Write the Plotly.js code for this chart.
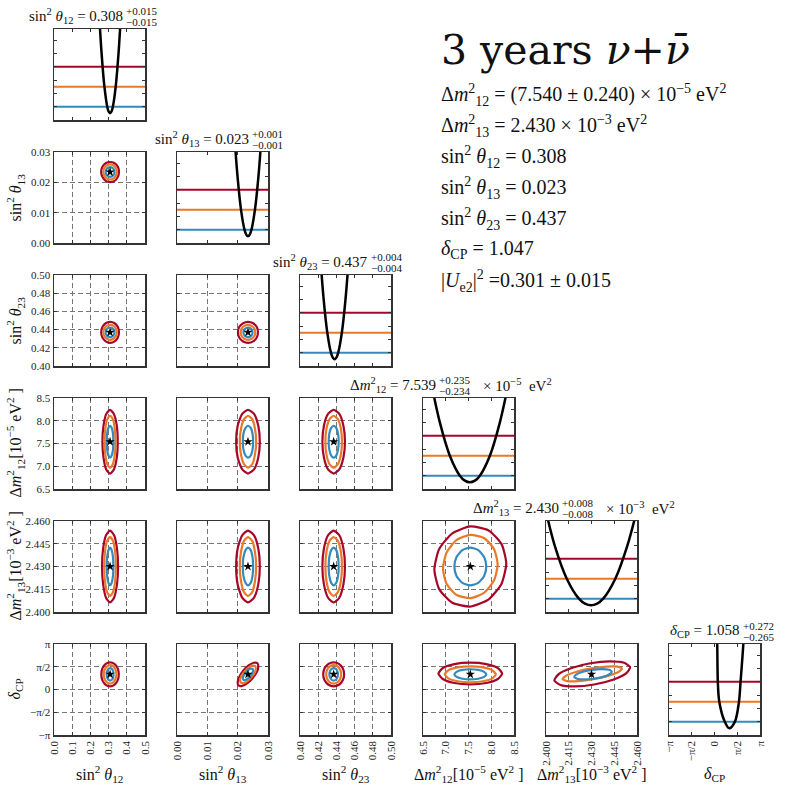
<!DOCTYPE html>
<html>
<head>
<meta charset="utf-8">
<script src="https://cdn.plot.ly/plotly-3.0.1.min.js"></script>
<style>html,body{margin:0;padding:0;background:#fff}</style>
</head>
<body>
<div id="chart" style="width:789px;height:789px"></div>
<script>
// ================= Data =================
const paramLabels = [
  "sin<sup>2</sup> <i>θ</i><sub>12</sub>",
  "sin<sup>2</sup> <i>θ</i><sub>13</sub>",
  "sin<sup>2</sup> <i>θ</i><sub>23</sub>",
  "Δ<i>m</i><sup>2</sup><sub>12</sub>[10<sup>−5</sup> eV<sup>2</sup> ]",
  "Δ<i>m</i><sup>2</sup><sub>13</sub>[10<sup>−3</sup> eV<sup>2</sup> ]",
  "<i>δ</i><sub>CP</sub>"
];
const bestFit = [0.308, 0.0234, 0.437, 7.54, 2.430, 1.05];

const ticks_s12 = [0, 0.1, 0.2, 0.3, 0.4, 0.5];
const ticktext_s12 = ["0.0", "0.1", "0.2", "0.3", "0.4", "0.5"];
const ticks_s13 = [0, 0.01, 0.02, 0.03];
const ticktext_s13 = ["0.00", "0.01", "0.02", "0.03"];
const ticks_s23 = [0.40, 0.42, 0.44, 0.46, 0.48, 0.50];
const ticktext_s23 = ["0.40", "0.42", "0.44", "0.46", "0.48", "0.50"];
const ticks_dm12 = [6.5, 7.0, 7.5, 8.0, 8.5];
const ticktext_dm12 = ["6.5", "7.0", "7.5", "8.0", "8.5"];
const ticks_dm13 = [2.400, 2.415, 2.430, 2.445, 2.460];
const ticktext_dm13 = ["2.400", "2.415", "2.430", "2.445", "2.460"];
const ticks_dcp = [-Math.PI, -Math.PI / 2, 0, Math.PI / 2, Math.PI];
const ticktext_dcp = ["−π", "−π/2", "0", "π/2", "π"];

// chi2 levels drawn on the 1D panels, and contour colours (1σ, 2σ, 3σ)
const chi2Levels = [1, 4, 7];
const levelColors = ["#348ABD", "#E8782A", "#A60628"];

// 1D profiles (x, Δχ²)
const prof_s12_x = [0.250, 0.2615, 0.277, 0.2925, 0.300, 0.308, 0.316, 0.3235, 0.339, 0.3545, 0.366];
const prof_s12_chi = [14, 9, 4, 1, 0.27, 0, 0.27, 1, 4, 9, 14];
const prof_s13_x = [0.0191, 0.01995, 0.0211, 0.02225, 0.02283, 0.0234, 0.02398, 0.02455, 0.0257, 0.02685, 0.0277];
const prof_s13_chi = [14, 9, 4, 1, 0.25, 0, 0.25, 1, 4, 9, 14];
const prof_s23_x = [0.423, 0.426, 0.430, 0.434, 0.436, 0.438, 0.440, 0.442, 0.446, 0.450, 0.453];
const prof_s23_chi = [14.06, 9, 4, 1, 0.25, 0, 0.25, 1, 4, 9, 14.06];
const prof_dm12_x = [6.71, 6.87, 7.09, 7.31, 7.42, 7.53, 7.64, 7.75, 7.97, 8.19, 8.35];
const prof_dm12_chi = [13.9, 9, 4, 1, 0.25, 0, 0.25, 1, 4, 9, 13.9];
const prof_dm13_x = [2.4000, 2.4057, 2.4137, 2.4217, 2.4257, 2.4297, 2.4337, 2.4377, 2.4457, 2.4537, 2.4597];
const prof_dm13_chi = [14.06, 9, 4, 1, 0.25, 0, 0.25, 1, 4, 9, 14.06];
const prof_dcp_x = [0.17, 0.19, 0.23, 0.33, 0.71, 1.02, 1.41, 1.69, 1.80, 1.99, 2.03];
const prof_dcp_chi = [15, 12.65, 7, 4, 1, 0, 1, 4, 7, 12.65, 15];

// 2D contours: [blue, orange, red] vertex lists
const s13_s12_x = [
  [0.332, 0.329, 0.320, 0.308, 0.296, 0.287, 0.284, 0.287, 0.296, 0.308, 0.320, 0.329, 0.332],
  [0.345, 0.340, 0.327, 0.308, 0.290, 0.276, 0.271, 0.276, 0.290, 0.308, 0.327, 0.340, 0.345],
  [0.357, 0.351, 0.333, 0.308, 0.284, 0.266, 0.259, 0.266, 0.284, 0.308, 0.333, 0.351, 0.357]];
const s13_s12_y = [
  [0.0234, 0.0242, 0.0248, 0.0250, 0.0248, 0.0242, 0.0234, 0.0226, 0.0220, 0.0218, 0.0220, 0.0226, 0.0234],
  [0.0234, 0.0247, 0.0256, 0.0259, 0.0256, 0.0247, 0.0234, 0.0222, 0.0212, 0.0209, 0.0212, 0.0222, 0.0234],
  [0.0234, 0.0251, 0.0263, 0.0267, 0.0263, 0.0251, 0.0234, 0.0218, 0.0205, 0.0201, 0.0205, 0.0218, 0.0234]];

const s23_s12_x = s13_s12_x;
const s23_s12_y = [
  [0.437, 0.4397, 0.4416, 0.4423, 0.4416, 0.4397, 0.437, 0.4344, 0.4324, 0.4317, 0.4324, 0.4344, 0.437],
  [0.437, 0.4411, 0.4441, 0.4452, 0.4441, 0.4411, 0.437, 0.4329, 0.4299, 0.4288, 0.4299, 0.4329, 0.437],
  [0.437, 0.4428, 0.4470, 0.4485, 0.4470, 0.4428, 0.437, 0.4313, 0.4270, 0.4255, 0.4270, 0.4313, 0.437]];
const s23_s13_x = [
  [0.0249, 0.0247, 0.0242, 0.0234, 0.0227, 0.0221, 0.0219, 0.0221, 0.0227, 0.0234, 0.0242, 0.0247, 0.0249],
  [0.0258, 0.0255, 0.0246, 0.0234, 0.0222, 0.0213, 0.0210, 0.0213, 0.0222, 0.0234, 0.0246, 0.0255, 0.0258],
  [0.0267, 0.0263, 0.0251, 0.0234, 0.0218, 0.0205, 0.0201, 0.0205, 0.0218, 0.0234, 0.0251, 0.0263, 0.0267]];
const s23_s13_y = s23_s12_y;

const dm12_s12_x = [
  [0.326, 0.324, 0.317, 0.308, 0.299, 0.292, 0.290, 0.292, 0.299, 0.308, 0.317, 0.324, 0.326],
  [0.338, 0.334, 0.323, 0.308, 0.293, 0.282, 0.278, 0.282, 0.293, 0.308, 0.323, 0.334, 0.338],
  [0.350, 0.345, 0.329, 0.308, 0.287, 0.272, 0.266, 0.272, 0.287, 0.308, 0.329, 0.345, 0.350]];
const dm12_s12_y = [
  [7.54, 7.715, 7.845, 7.89, 7.845, 7.715, 7.54, 7.365, 7.235, 7.19, 7.235, 7.365, 7.54],
  [7.54, 7.825, 8.036, 8.11, 8.036, 7.825, 7.54, 7.255, 7.044, 6.97, 7.044, 7.255, 7.54],
  [7.54, 7.89, 8.15, 8.24, 8.15, 7.89, 7.54, 7.19, 6.93, 6.84, 6.93, 7.19, 7.54]];
const dm12_s13_x = [
  [0.0251, 0.0249, 0.0243, 0.0234, 0.0226, 0.0219, 0.0217, 0.0219, 0.0226, 0.0234, 0.0243, 0.0249, 0.0251],
  [0.0261, 0.0257, 0.0248, 0.0234, 0.0221, 0.0211, 0.0207, 0.0211, 0.0221, 0.0234, 0.0248, 0.0257, 0.0261],
  [0.0273, 0.0268, 0.0254, 0.0234, 0.0215, 0.0200, 0.0195, 0.0200, 0.0215, 0.0234, 0.0254, 0.0268, 0.0273]];
const dm12_s13_y = dm12_s12_y;
const dm12_s23_x = [
  [0.4425, 0.4418, 0.4398, 0.437, 0.4343, 0.4322, 0.4315, 0.4322, 0.4343, 0.437, 0.4398, 0.4418, 0.4425],
  [0.4461, 0.4449, 0.4416, 0.437, 0.4325, 0.4291, 0.4279, 0.4291, 0.4325, 0.437, 0.4416, 0.4449, 0.4461],
  [0.4494, 0.4477, 0.4432, 0.437, 0.4308, 0.4263, 0.4246, 0.4263, 0.4308, 0.437, 0.4432, 0.4477, 0.4494]];
const dm12_s23_y = dm12_s12_y;

const dm13_s12_x = [
  [0.326, 0.324, 0.317, 0.308, 0.299, 0.292, 0.290, 0.292, 0.299, 0.308, 0.317, 0.324, 0.326],
  [0.340, 0.336, 0.324, 0.308, 0.292, 0.280, 0.276, 0.280, 0.292, 0.308, 0.324, 0.336, 0.340],
  [0.352, 0.346, 0.330, 0.308, 0.286, 0.270, 0.264, 0.270, 0.286, 0.308, 0.330, 0.346, 0.352]];
const dm13_s12_y = [
  [2.430, 2.4362, 2.4408, 2.4424, 2.4408, 2.4362, 2.430, 2.4238, 2.4192, 2.4176, 2.4192, 2.4238, 2.430],
  [2.430, 2.4397, 2.4469, 2.4494, 2.4469, 2.4397, 2.430, 2.4203, 2.4131, 2.4106, 2.4131, 2.4203, 2.430],
  [2.430, 2.4419, 2.4506, 2.4537, 2.4506, 2.4419, 2.430, 2.4182, 2.4094, 2.4063, 2.4094, 2.4182, 2.430]];
const dm13_s13_x = dm12_s13_x;
const dm13_s13_y = dm13_s12_y;
const dm13_s23_x = dm12_s23_x;
const dm13_s23_y = dm13_s12_y;
const dm13_dm12_x = [
  [7.89, 7.843, 7.715, 7.54, 7.365, 7.237, 7.19, 7.237, 7.365, 7.54, 7.715, 7.843, 7.89],
  [8.14, 8.06, 7.84, 7.54, 7.24, 7.02, 6.94, 7.02, 7.24, 7.54, 7.84, 8.06, 8.14],
  [8.33, 8.224, 7.935, 7.54, 7.145, 6.856, 6.75, 6.856, 7.145, 7.54, 7.935, 8.224, 8.33]];
const dm13_dm12_y = [
  [2.430, 2.4362, 2.4408, 2.4424, 2.4408, 2.4362, 2.430, 2.4238, 2.4192, 2.4176, 2.4192, 2.4238, 2.430],
  [2.4313, 2.4416, 2.4488, 2.4509, 2.4475, 2.4393, 2.4287, 2.4184, 2.4112, 2.4091, 2.4126, 2.4207, 2.4313],
  [2.432, 2.4449, 2.4539, 2.4564, 2.4519, 2.4415, 2.428, 2.4151, 2.4061, 2.4036, 2.4081, 2.4185, 2.432]];

const dcp_s12_x = [
  [0.327, 0.325, 0.318, 0.308, 0.299, 0.292, 0.289, 0.292, 0.299, 0.308, 0.318, 0.325, 0.327],
  [0.343, 0.338, 0.326, 0.308, 0.291, 0.278, 0.273, 0.278, 0.291, 0.308, 0.326, 0.338, 0.343],
  [0.356, 0.350, 0.332, 0.308, 0.284, 0.266, 0.260, 0.266, 0.284, 0.308, 0.332, 0.350, 0.356]];
const dcp_s12_y = [
  [1.047, 1.262, 1.421, 1.477, 1.421, 1.262, 1.047, 0.832, 0.673, 0.617, 0.673, 0.832, 1.047],
  [1.047, 1.367, 1.604, 1.687, 1.604, 1.367, 1.047, 0.727, 0.490, 0.407, 0.490, 0.727, 1.047],
  [1.047, 1.462, 1.769, 1.877, 1.769, 1.462, 1.047, 0.632, 0.325, 0.217, 0.325, 0.632, 1.047]];
const dcp_s13_x = [
  [0.0249, 0.0243, 0.0235, 0.0227, 0.0220, 0.0217, 0.0219, 0.0225, 0.0233, 0.0241, 0.0248, 0.0251, 0.0249],
  [0.0257, 0.0248, 0.0236, 0.0223, 0.0212, 0.0208, 0.0211, 0.0220, 0.0232, 0.0245, 0.0256, 0.0260, 0.0257],
  [0.0265, 0.0253, 0.0236, 0.0219, 0.0206, 0.0200, 0.0203, 0.0215, 0.0232, 0.0249, 0.0263, 0.0268, 0.0265]];
const dcp_s13_y = [
  [1.422, 1.438, 1.348, 1.177, 0.972, 0.787, 0.672, 0.656, 0.746, 0.917, 1.122, 1.307, 1.422],
  [1.625, 1.649, 1.510, 1.248, 0.932, 0.646, 0.469, 0.445, 0.584, 0.846, 1.162, 1.448, 1.625],
  [1.813, 1.844, 1.660, 1.313, 0.895, 0.516, 0.281, 0.250, 0.434, 0.781, 1.199, 1.578, 1.813]];
const dcp_s23_x = [
  [0.4417, 0.4411, 0.4394, 0.437, 0.4347, 0.4329, 0.4323, 0.4329, 0.4347, 0.437, 0.4394, 0.4411, 0.4417],
  [0.4452, 0.4441, 0.4411, 0.437, 0.4329, 0.4299, 0.4288, 0.4299, 0.4329, 0.437, 0.4411, 0.4441, 0.4452],
  [0.4485, 0.4470, 0.4428, 0.437, 0.4313, 0.4270, 0.4255, 0.4270, 0.4313, 0.437, 0.4428, 0.4470, 0.4485]];
const dcp_s23_y = dcp_s12_y;
const dcp_dm12_x = [
  [7.89, 7.843, 7.715, 7.54, 7.365, 7.237, 7.19, 7.237, 7.365, 7.54, 7.715, 7.843, 7.89],
  [8.10, 8.025, 7.82, 7.54, 7.26, 7.055, 6.98, 7.055, 7.26, 7.54, 7.82, 8.025, 8.10],
  [8.24, 8.146, 7.89, 7.54, 7.19, 6.934, 6.84, 6.934, 7.19, 7.54, 7.89, 8.146, 8.24]];
const dcp_dm12_y = [
  [1.047, 1.222, 1.350, 1.397, 1.350, 1.222, 1.047, 0.872, 0.744, 0.697, 0.744, 0.872, 1.047],
  [1.047, 1.322, 1.523, 1.597, 1.523, 1.322, 1.047, 0.772, 0.571, 0.497, 0.571, 0.772, 1.047],
  [1.10, 1.475, 1.75, 1.85, 1.75, 1.475, 1.10, 0.725, 0.45, 0.35, 0.45, 0.725, 1.10]];
const dcp_dm13_x = [
  [2.4434, 2.4415, 2.4369, 2.4306, 2.4244, 2.4201, 2.4186, 2.4205, 2.4252, 2.4314, 2.4376, 2.4419, 2.4434],
  [2.4500, 2.4471, 2.4397, 2.4299, 2.4202, 2.4133, 2.4110, 2.4140, 2.4213, 2.4311, 2.4408, 2.4477, 2.4500],
  [2.4555, 2.4515, 2.4419, 2.4293, 2.4169, 2.4082, 2.4055, 2.4095, 2.4191, 2.4317, 2.4441, 2.4528, 2.4555]];
const dcp_dm13_y = [
  [1.232, 1.362, 1.407, 1.358, 1.225, 1.046, 0.868, 0.738, 0.693, 0.742, 0.875, 1.054, 1.232],
  [1.440, 1.579, 1.584, 1.454, 1.224, 0.955, 0.720, 0.581, 0.576, 0.706, 0.936, 1.205, 1.440],
  [1.542, 1.847, 1.947, 1.814, 1.484, 1.047, 0.618, 0.313, 0.213, 0.346, 0.676, 1.113, 1.542]];

// diagonal titles: main text, +err, -err, trailing units
const diagMain = [
  "sin<sup>2</sup> <i>θ</i><sub>12</sub> = 0.308",
  "sin<sup>2</sup> <i>θ</i><sub>13</sub> = 0.023",
  "sin<sup>2</sup> <i>θ</i><sub>23</sub> = 0.437",
  "Δ<i>m</i><sup>2</sup><sub>12</sub> = 7.539",
  "Δ<i>m</i><sup>2</sup><sub>13</sub> = 2.430",
  "<i>δ</i><sub>CP</sub> = 1.058"
];
const diagPlus = ["+0.015", "+0.001", "+0.004", "+0.235", "+0.008", "+0.272"];
const diagMinus = ["−0.015", "−0.001", "−0.004", "−0.234", "−0.008", "−0.265"];
const diagTail = ["", "", "", "× 10<sup>−5</sup>  eV<sup>2</sup>", "× 10<sup>−3</sup>  eV<sup>2</sup>", ""];

const infoTitle = "3 years <i>ν</i>+<i>ν̄</i>";
const infoLines = [
  "Δ<i>m</i><sup>2</sup><sub>12</sub> = (7.540 ± 0.240) × 10<sup>−5</sup> eV<sup>2</sup>",
  "Δ<i>m</i><sup>2</sup><sub>13</sub> = 2.430 × 10<sup>−3</sup> eV<sup>2</sup>",
  "sin<sup>2</sup> <i>θ</i><sub>12</sub> = 0.308",
  "sin<sup>2</sup> <i>θ</i><sub>13</sub> = 0.023",
  "sin<sup>2</sup> <i>θ</i><sub>23</sub> = 0.437",
  "<i>δ</i><sub>CP</sub> = 1.047",
  "|<i>U</i><sub>e2</sub>|<sup>2</sup> =0.301 ± 0.015"
];

// ================= Assembly =================
const axisTicks = [ticks_s12, ticks_s13, ticks_s23, ticks_dm12, ticks_dm13, ticks_dcp];
const axisTickText = [ticktext_s12, ticktext_s13, ticktext_s23, ticktext_dm12, ticktext_dm13, ticktext_dcp];
const profX = [prof_s12_x, prof_s13_x, prof_s23_x, prof_dm12_x, prof_dm13_x, prof_dcp_x];
const profChi = [prof_s12_chi, prof_s13_chi, prof_s23_chi, prof_dm12_chi, prof_dm13_chi, prof_dcp_chi];
const contours = {
  "1,0": [s13_s12_x, s13_s12_y],
  "2,0": [s23_s12_x, s23_s12_y], "2,1": [s23_s13_x, s23_s13_y],
  "3,0": [dm12_s12_x, dm12_s12_y], "3,1": [dm12_s13_x, dm12_s13_y], "3,2": [dm12_s23_x, dm12_s23_y],
  "4,0": [dm13_s12_x, dm13_s12_y], "4,1": [dm13_s13_x, dm13_s13_y], "4,2": [dm13_s23_x, dm13_s23_y],
  "4,3": [dm13_dm12_x, dm13_dm12_y],
  "5,0": [dcp_s12_x, dcp_s12_y], "5,1": [dcp_s13_x, dcp_s13_y], "5,2": [dcp_s23_x, dcp_s23_y],
  "5,3": [dcp_dm12_x, dcp_dm12_y], "5,4": [dcp_dm13_x, dcp_dm13_y]
};

const SERIF = "Liberation Serif, DejaVu Serif, serif";
const W = 789, PW = 91, STEP = 123, X0 = 54, Y0 = 29;
const px = v => v / W;          // pixel -> paper x
const py = v => 1 - v / W;      // pixel -> paper y

const layout = {
  width: W, height: W, autosize: false,
  margin: { l: 0, r: 0, t: 0, b: 0 },
  showlegend: false,
  paper_bgcolor: "#fff", plot_bgcolor: "#fff",
  font: { family: SERIF, color: "#111" },
  annotations: [], shapes: []
};
const traces = [];

const frame = {
  showline: true, mirror: "ticks", linecolor: "#333", linewidth: 1.5,
  ticks: "inside", ticklen: 3, tickwidth: 1, tickcolor: "#333",
  zeroline: false, fixedrange: true,
  tickfont: { family: SERIF, size: 11, color: "#222" }
};
const grid = { showgrid: true, gridcolor: "#777", griddash: "5px,3px", gridwidth: 1 };

function note(x, y, text, size, opts) {
  layout.annotations.push(Object.assign({
    xref: "paper", yref: "paper", x: px(x), y: py(y), text: text, showarrow: false,
    xanchor: "center", yanchor: "middle", borderpad: 0,
    font: { family: SERIF, size: size, color: "#111" }
  }, opts || {}));
}

let k = 0;
for (let i = 0; i < 6; i++) {
  for (let j = 0; j <= i; j++) {
    k++;
    const sfx = k === 1 ? "" : String(k);
    const xr = "x" + sfx, yr = "y" + sfx;
    const left = X0 + STEP * j, top = Y0 + STEP * i;
    const xd = [px(left), px(left + PW)];
    const yd = [py(top + PW), py(top)];
    const xt = axisTicks[j];
    const xRange = [xt[0], xt[xt.length - 1]];

    const xaxis = Object.assign({}, frame, {
      domain: xd, anchor: yr, range: xRange,
      tickmode: "array", tickvals: xt, ticktext: axisTickText[j],
      showticklabels: i === 5, tickangle: -90, showgrid: false
    });

    if (i === j) {
      // ---- 1D profile ----
      layout["xaxis" + sfx] = xaxis;
      layout["yaxis" + sfx] = Object.assign({}, frame, {
        domain: yd, anchor: xr, range: [-1, 12.65],
        tickmode: "linear", tick0: 1, dtick: 2,
        showticklabels: false, showgrid: false
      });
      chi2Levels.forEach((lev, n) => {
        layout.shapes.push({
          type: "line", layer: "below",
          xref: xr + " domain", x0: 0, x1: 1,
          yref: yr, y0: lev, y1: lev,
          line: { color: levelColors[n], width: 2 }
        });
      });
      traces.push({
        type: "scatter", mode: "lines", x: profX[i], y: profChi[i],
        xaxis: xr, yaxis: yr, hoverinfo: "skip",
        line: { color: "#000", width: 2.5, shape: "spline", smoothing: 0.9 }
      });

      // title split into main / upper / lower / tail
      const split = [124, 250, 369, 437, 560, 741][i];
      note(split, top - 13, diagMain[i], 15, { xanchor: "right" });
      note(split + 1, top - 18, diagPlus[i], 11, { xanchor: "left" });
      note(split + 1, top - 7, diagMinus[i], 11, { xanchor: "left" });
      if (diagTail[i]) note(split + 45, top - 13, diagTail[i], 15, { xanchor: "left" });
    } else {
      // ---- 2D contours ----
      const yt = axisTicks[i];
      layout["xaxis" + sfx] = Object.assign(xaxis, grid);
      layout["yaxis" + sfx] = Object.assign({}, frame, grid, {
        domain: yd, anchor: xr, range: [yt[0], yt[yt.length - 1]],
        tickmode: "array", tickvals: yt, ticktext: axisTickText[i],
        showticklabels: j === 0
      });
      const [cxs, cys] = contours[i + "," + j];
      for (let n = 2; n >= 0; n--) {
        traces.push({
          type: "scatter", mode: "lines", x: cxs[n], y: cys[n],
          xaxis: xr, yaxis: yr, hoverinfo: "skip",
          line: { color: levelColors[n], width: 2.2, shape: "spline", smoothing: 0.6 }
        });
      }
      traces.push({
        type: "scatter", mode: "markers", x: [bestFit[j]], y: [bestFit[i]],
        xaxis: xr, yaxis: yr, hoverinfo: "skip",
        marker: { symbol: "star", size: 7, color: "#000" }
      });
    }
  }
}

// ---- axis labels ----
for (let i = 1; i < 6; i++) {
  note(15, Y0 + STEP * i + PW / 2, paramLabels[i], 16, { textangle: -90 });
}
for (let j = 0; j < 6; j++) {
  note(X0 + STEP * j + PW / 2, 774, paramLabels[j], 16);
}

// ---- info block ----
note(440, 50, infoTitle, 41, { xanchor: "left", font: { family: "DejaVu Serif, serif", size: 41, color: "#111" } });
infoLines.forEach((t, n) => note(440, 95 + 31 * n, t, 20, { xanchor: "left" }));

Plotly.newPlot("chart", traces, layout, { displayModeBar: false, staticPlot: true });
</script>
</body>
</html>
